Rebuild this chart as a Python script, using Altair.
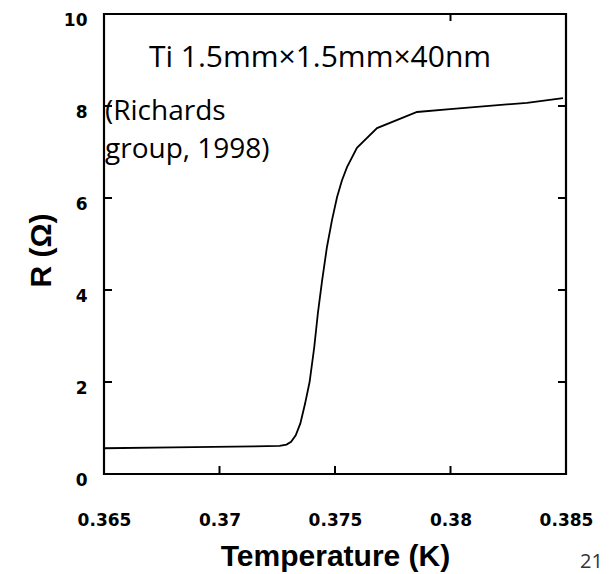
import altair as alt
import pandas as pd

# Curve
temp_k = [0.365, 0.368, 0.3715, 0.3726, 0.3729, 0.3731, 0.3733, 0.3735, 0.3737,
          0.3739, 0.3741, 0.37426, 0.37444, 0.37465, 0.37487, 0.37509, 0.3753,
          0.37552, 0.37595, 0.37682, 0.37855, 0.37998, 0.38331, 0.38487]
res_ohm = [0.56, 0.58, 0.60, 0.61, 0.64, 0.70, 0.84, 1.10, 1.52,
           2.00, 2.75, 3.50, 4.20, 4.93, 5.52, 6.02, 6.38,
           6.67, 7.09, 7.52, 7.87, 7.93, 8.07, 8.17]

x_ticks = [0.365, 0.37, 0.375, 0.38, 0.385]
y_ticks = [0, 2, 4, 6, 8, 10]
inner_x_ticks = [0.37, 0.375, 0.38]
inner_top_ticks = [0.38]
inner_y_ticks = [2, 4, 6, 8]

title_text = ["Ti 1.5mm×1.5mm×40nm"]
title_pos_t = [0.37435]
title_pos_r = [8.85]
cite_text = ["(Richards", "group, 1998)"]
cite_pos_t = [0.365, 0.365]
cite_pos_r = [7.70, 6.87]
page_text = ["21"]

W, H = 462, 460

xs = alt.Scale(domain=[0.365, 0.385], nice=False, zero=False)
ys = alt.Scale(domain=[0, 10], nice=False, zero=False)

x_axis = alt.Axis(
    values=x_ticks, format="~g", title="Temperature (K)", ticks=False, tickSize=0,
    domain=False, grid=False, labelFont="DejaVu Sans", labelFontWeight="bold",
    labelFontSize=17, labelColor="black", labelPadding=38, labelFlush=False,
    labelOverlap=False, titleFont="Liberation Sans", titleFontWeight="bold",
    titleFontSize=30, titleColor="black", titleBaseline="alphabetic",
    titleY=91, titleX=W / 2, titleAlign="center")
y_axis = alt.Axis(
    values=y_ticks, format="d", title="R (Ω)", ticks=False, tickSize=0,
    domain=False, grid=False, labelFont="DejaVu Sans", labelFontWeight="bold",
    labelFontSize=17, labelColor="black", labelPadding=17, labelOffset=6,
    labelFlush=False, labelOverlap=False, titleFont="Liberation Sans",
    titleFontWeight="bold", titleFontSize=30, titleColor="black",
    titleAngle=-90, titleBaseline="alphabetic", titleX=-54, titleY=236,
    titleAlign="center")


def X():
    return alt.X("T:Q", scale=xs, axis=x_axis)


def Y():
    return alt.Y("R:Q", scale=ys, axis=y_axis)


curve = pd.DataFrame({"T": temp_k, "R": res_ohm})
line = alt.Chart(curve).mark_line(color="black", strokeWidth=1.8).encode(x=X(), y=Y())

ydf = pd.DataFrame({"R": inner_y_ticks})
left_ticks = alt.Chart(ydf).mark_rule(color="black", strokeWidth=2).encode(
    y=Y(), x=alt.value(0), x2=alt.value(8))
right_ticks = alt.Chart(ydf).mark_rule(color="black", strokeWidth=2).encode(
    y=Y(), x=alt.value(W), x2=alt.value(W - 8))

xdf = pd.DataFrame({"T": inner_x_ticks})
bottom_ticks = alt.Chart(xdf).mark_rule(color="black", strokeWidth=2).encode(
    x=X(), y=alt.value(H), y2=alt.value(H - 8))
tdf = pd.DataFrame({"T": inner_top_ticks})
top_ticks = alt.Chart(tdf).mark_rule(color="black", strokeWidth=2).encode(
    x=X(), y=alt.value(0), y2=alt.value(7))

title_df = pd.DataFrame({"text": title_text, "T": title_pos_t, "R": title_pos_r})
title_mark = alt.Chart(title_df).mark_text(
    font="Open Sans", fontSize=30, align="center", baseline="alphabetic", color="black"
).encode(x=X(), y=Y(), text="text:N")

cite_df = pd.DataFrame({"text": cite_text, "T": cite_pos_t, "R": cite_pos_r})
cite_mark = alt.Chart(cite_df).mark_text(
    font="Open Sans", fontSize=28, align="left", baseline="alphabetic", dx=1, color="black"
).encode(x=X(), y=Y(), text="text:N")

page_df = pd.DataFrame({"text": page_text})
page_mark = alt.Chart(page_df).mark_text(
    font="Open Sans", fontSize=20, align="left", baseline="top", color="#333333"
).encode(x=alt.value(W + 14), y=alt.value(H + 78), text="text:N")

chart = alt.layer(line, left_ticks, right_ticks, bottom_ticks, top_ticks,
                  title_mark, cite_mark, page_mark).properties(
    width=W, height=H,
    autosize=alt.AutoSizeParams(type="none"),
    padding={"left": 104, "top": 14, "right": 46, "bottom": 100},
    background="white",
).configure_view(stroke="black", strokeWidth=2.2)

chart.save("out.html", embed_options={"renderer": "svg", "actions": False})
